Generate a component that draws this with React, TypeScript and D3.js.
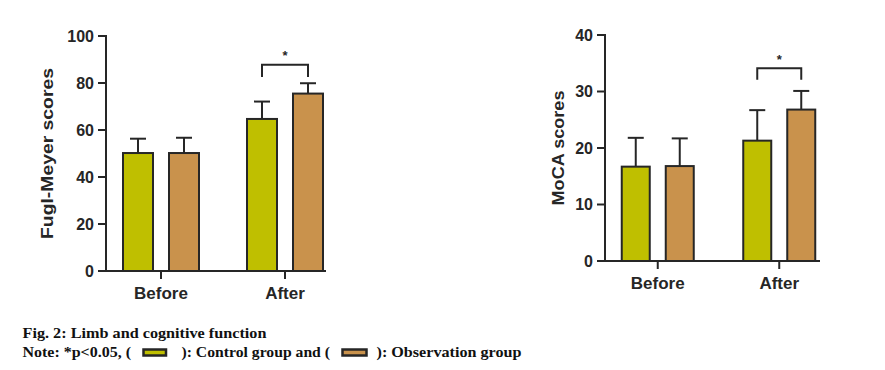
import React from "react";
import * as d3 from "d3";

// data
const categories = ["Before", "After"];
const groups = ["Control", "Observation"];

const fuglMean = [[50.2, 50.2], [64.7, 75.5]];
const fuglSd = [[6.1, 6.5], [7.4, 4.4]];
const fuglTicks = [0, 20, 40, 60, 80, 100];

const mocaMean = [[16.7, 16.8], [21.3, 26.8]];
const mocaSd = [[5.1, 4.9], [5.4, 3.3]];
const mocaTicks = [0, 10, 20, 30, 40];

const colours = ["#bfbf00", "#c9924c"];
const ink = "#262626";

type PanelProps = {
  means: number[][];
  sds: number[][];
  ticks: number[];
  yMax: number;
  yTop: number;
  yBottom: number;
  xLeft: number;
  xRight: number;
  bandRange: [number, number];
  barWidth: number;
  barGap: number;
  label: string;
  labelX: number;
  labelLen: number;
  bracket: [number, number];
  starY: number;
};

function Panel(p: PanelProps) {
  const y = d3.scaleLinear().domain([0, p.yMax]).range([p.yBottom, p.yTop]);
  const x = d3.scaleBand().domain(categories).range(p.bandRange);
  const bw = x.bandwidth();
  const step = p.barWidth + p.barGap;
  const inner = d3
    .scaleBand()
    .domain(groups)
    .range([0, bw])
    .paddingInner(1 - p.barWidth / step)
    .paddingOuter((bw / step - 2 + (1 - p.barWidth / step)) / 2);
  const ib = inner.bandwidth();

  const afterX = x("After")!;
  const bx1 = afterX + inner(groups[0])! + ib / 2;
  const bx2 = afterX + inner(groups[1])! + ib / 2;

  return (
    <g>
      {categories.map((c, ci) =>
        groups.map((g, gi) => {
          const x0 = x(c)! + inner(g)!;
          const cx = x0 + ib / 2;
          const m = p.means[ci][gi];
          const e = m + p.sds[ci][gi];
          return (
            <g key={c + g}>
              <line x1={cx} x2={cx} y1={y(m)} y2={y(e)} stroke={ink} strokeWidth={2} />
              <line x1={cx - 8} x2={cx + 8} y1={y(e)} y2={y(e)} stroke={ink} strokeWidth={2} />
              <rect
                x={x0}
                y={y(m)}
                width={ib}
                height={y(0) - y(m)}
                fill={colours[gi]}
                stroke={ink}
                strokeWidth={2}
              />
            </g>
          );
        })
      )}
      {/* axes */}
      <line x1={p.xLeft} x2={p.xLeft} y1={p.yTop - 1} y2={p.yBottom} stroke={ink} strokeWidth={2} />
      <line x1={p.xLeft - 8} x2={p.xRight} y1={p.yBottom} y2={p.yBottom} stroke={ink} strokeWidth={2} />
      {p.ticks.map((t) => (
        <g key={t}>
          <line x1={p.xLeft - 8} x2={p.xLeft} y1={y(t)} y2={y(t)} stroke={ink} strokeWidth={2} />
          <text
            x={p.xLeft - 12}
            y={y(t)}
            dy="0.36em"
            textAnchor="end"
            fontSize={16}
            fontWeight="bold"
            fill={ink}
          >
            {t}
          </text>
        </g>
      ))}
      {categories.map((c) => {
        const cx = x(c)! + bw / 2;
        return (
          <g key={c}>
            <line x1={cx} x2={cx} y1={p.yBottom} y2={p.yBottom + 8} stroke={ink} strokeWidth={2} />
            <text x={cx} y={p.yBottom + 28} textAnchor="middle" fontSize={17} fontWeight="bold" fill={ink}>
              {c}
            </text>
          </g>
        );
      })}
      <text
        transform={`translate(${p.labelX},${(p.yTop + p.yBottom) / 2}) rotate(-90)`}
        textAnchor="middle"
        fontSize={16}
        fontWeight="bold"
        fill={ink}
        textLength={p.labelLen}
        lengthAdjust="spacingAndGlyphs"
      >
        {p.label}
      </text>
      {/* significance bracket */}
      <path
        d={`M${bx1},${y(p.bracket[1])}V${y(p.bracket[0])}H${bx2}V${y(p.bracket[1])}`}
        fill="none"
        stroke={ink}
        strokeWidth={2}
      />
      <text x={(bx1 + bx2) / 2} y={p.starY} textAnchor="middle" fontSize={13} fontWeight="bold" fill={ink}>
        *
      </text>
    </g>
  );
}

export default function App() {
  const serif = "'Liberation Serif', 'Times New Roman', serif";
  return (
    <svg
      width={885}
      height={370}
      style={{ position: "absolute", left: 0, top: 0, background: "#fff" }}
      fontFamily="'Liberation Sans', Arial, sans-serif"
    >
      <Panel
        means={fuglMean}
        sds={fuglSd}
        ticks={fuglTicks}
        yMax={100}
        yTop={36}
        yBottom={271}
        xLeft={106}
        xRight={326}
        bandRange={[99, 347]}
        barWidth={30}
        barGap={16}
        label="Fugl-Meyer scores"
        labelX={53}
        labelLen={171}
        bracket={[87.8, 82.6]}
        starY={60}
      />
      <Panel
        means={mocaMean}
        sds={mocaSd}
        ticks={mocaTicks}
        yMax={40}
        yTop={35}
        yBottom={261}
        xLeft={605}
        xRight={820}
        bandRange={[597, 840]}
        barWidth={28}
        barGap={16}
        label="MoCA scores"
        labelX={564}
        labelLen={115}
        bracket={[34.1, 32.1]}
        starY={64}
      />
      <g fontFamily={serif} fontWeight="bold" fontSize={15} fill="#111">
        <text x={22.5} y={338} textLength={244} lengthAdjust="spacingAndGlyphs">
          Fig. 2: Limb and cognitive function
        </text>
        <text x={22.5} y={357} textLength={108.5} lengthAdjust="spacingAndGlyphs">
          Note: *p&lt;0.05, (
        </text>
        <rect x={143.5} y={349.5} width={22.5} height={6} fill={colours[0]} stroke={ink} strokeWidth={2.5} />
        <text x={181.5} y={357} textLength={148.5} lengthAdjust="spacingAndGlyphs">
          ): Control group and (
        </text>
        <rect x={342.5} y={349.5} width={24} height={6} fill={colours[1]} stroke={ink} strokeWidth={2.5} />
        <text x={376.5} y={357} textLength={145} lengthAdjust="spacingAndGlyphs">
          ): Observation group
        </text>
      </g>
    </svg>
  );
}
